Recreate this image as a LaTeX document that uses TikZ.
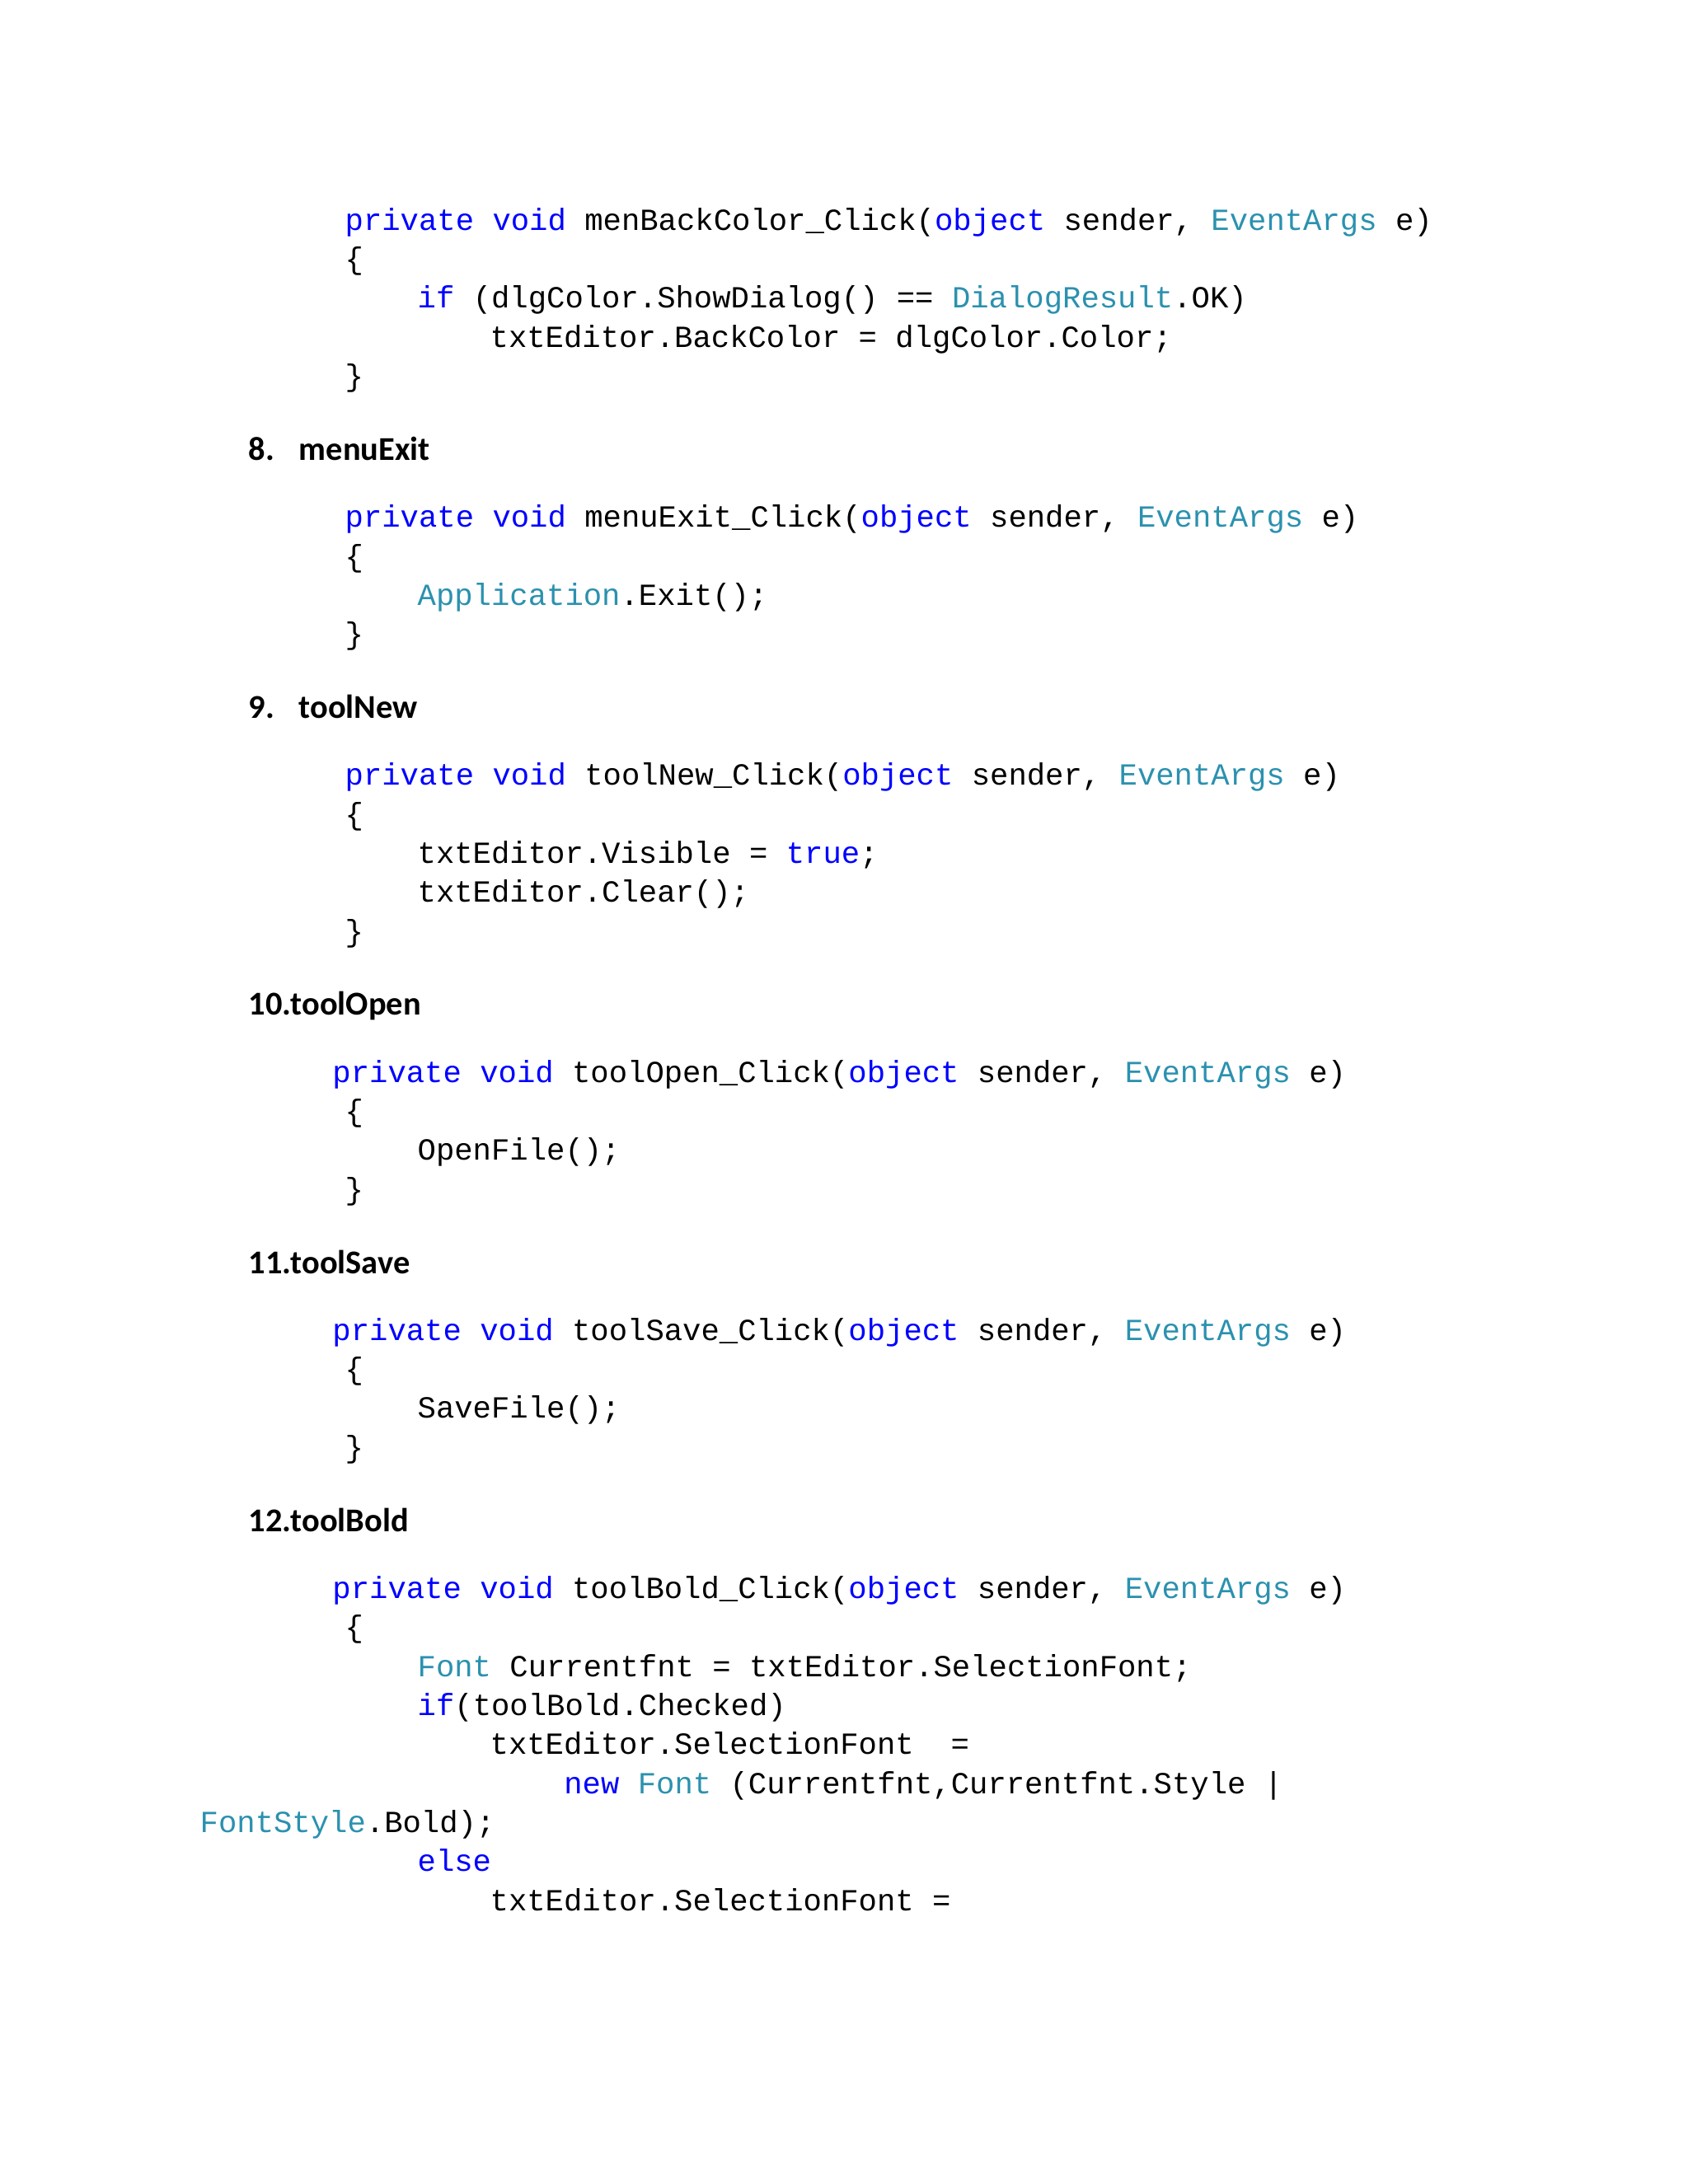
\documentclass[tikz,border=0pt]{standalone}
\usepackage{fontspec}
\setmainfont{Carlito}
\setmonofont{Liberation Mono}
\definecolor{kwc}{RGB}{0,0,255}
\definecolor{tyc}{RGB}{43,145,175}
\newcommand{\kw}[1]{\textcolor{kwc}{#1}}
\newcommand{\ty}[1]{\textcolor{tyc}{#1}}
\tikzset{code/.style={anchor=base west,inner sep=0pt,font=\ttfamily\fontsize{10.6pt}{12pt}\selectfont},
head/.style={anchor=base west,inner sep=0pt,font=\bfseries\fontsize{11.5pt}{13pt}\selectfont}}
\begin{document}
\begin{tikzpicture}[x=0.016926cm,y=-0.016926cm]
\useasboundingbox (0,0) rectangle (1210,1566);
\fill[white] (0,0) rectangle (1210,1566);
\node[code] (a1) at (247,165) {\kw{private} \kw{void} menBackColor\_Click(\kw{object} sender, \ty{EventArgs} e)};
\node[code] (a2) at (247,193) {\{};
\node[code] (a3) at (299,221) {\kw{if} (dlgColor.ShowDialog() == \ty{DialogResult}.OK)};
\node[code] (a4) at (351,249) {txtEditor.BackColor = dlgColor.Color;};
\node[code] (a5) at (247,277) {\}};
\node[head] (h8) at (178,330) {8.};
\node[head] (h8t) at (214,330) {menuExit};
\node[code] (b1) at (247,378) {\kw{private} \kw{void} menuExit\_Click(\kw{object} sender, \ty{EventArgs} e)};
\node[code] (b2) at (247,406) {\{};
\node[code] (b3) at (299,434) {\ty{Application}.Exit();};
\node[code] (b4) at (247,462) {\}};
\node[head] (h9) at (178,515) {9.};
\node[head] (h9t) at (214,515) {toolNew};
\node[code] (c1) at (247,563) {\kw{private} \kw{void} toolNew\_Click(\kw{object} sender, \ty{EventArgs} e)};
\node[code] (c2) at (247,591) {\{};
\node[code] (c3) at (299,619) {txtEditor.Visible = \kw{true};};
\node[code] (c4) at (299,647) {txtEditor.Clear();};
\node[code] (c5) at (247,675) {\}};
\node[head] (h10) at (178,728) {10.toolOpen};
\node[code] (d1) at (238,776) {\kw{private} \kw{void} toolOpen\_Click(\kw{object} sender, \ty{EventArgs} e)};
\node[code] (d2) at (247,804) {\{};
\node[code] (d3) at (299,832) {OpenFile();};
\node[code] (d4) at (247,860) {\}};
\node[head] (h11) at (178,913) {11.toolSave};
\node[code] (e1) at (238,961) {\kw{private} \kw{void} toolSave\_Click(\kw{object} sender, \ty{EventArgs} e)};
\node[code] (e2) at (247,989) {\{};
\node[code] (e3) at (299,1017) {SaveFile();};
\node[code] (e4) at (247,1045) {\}};
\node[head] (h12) at (178,1098) {12.toolBold};
\node[code] (f1) at (238,1146) {\kw{private} \kw{void} toolBold\_Click(\kw{object} sender, \ty{EventArgs} e)};
\node[code] (f2) at (247,1174) {\{};
\node[code] (f3) at (299,1202) {\ty{Font} Currentfnt = txtEditor.SelectionFont;};
\node[code] (f4) at (299,1230) {\kw{if}(toolBold.Checked)};
\node[code] (f5) at (351,1258) {txtEditor.SelectionFont~~=};
\node[code] (f6) at (404,1286) {\kw{new} \ty{Font} (Currentfnt,Currentfnt.Style |};
\node[code] (f7) at (143,1314) {\ty{FontStyle}.Bold);};
\node[code] (f8) at (299,1342) {\kw{else}};
\node[code] (f9) at (351,1370) {txtEditor.SelectionFont =};
\end{tikzpicture}
\end{document}
